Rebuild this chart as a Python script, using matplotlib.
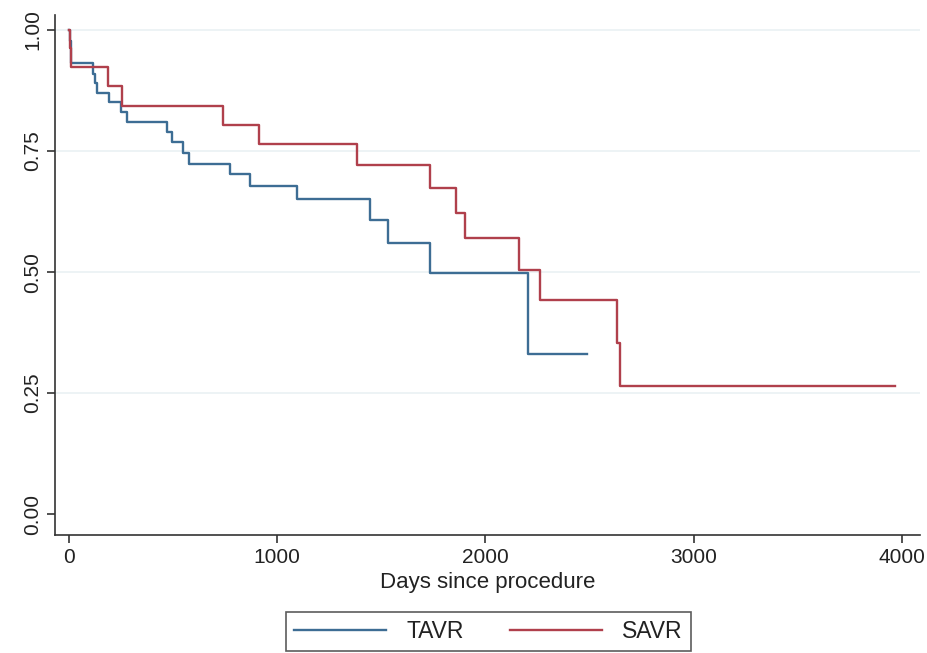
import matplotlib
matplotlib.use('Agg')
import matplotlib.pyplot as plt

# Kaplan-Meier step estimates
tavr_days = [0, 3, 8, 12, 114, 125, 133, 193, 250, 278, 470, 494, 547, 577, 773, 869, 1094, 1445, 1531, 1733, 2204, 2487]
tavr_surv = [1.0, 0.977, 0.955, 0.932, 0.91, 0.89, 0.870, 0.851, 0.831, 0.810, 0.790, 0.768, 0.745, 0.723, 0.702, 0.678, 0.651, 0.607, 0.560, 0.498, 0.331, 0.331]

savr_days = [0, 5, 10, 187, 254, 738, 912, 1381, 1733, 1858, 1902, 2163, 2262, 2632, 2646, 3965]
savr_surv = [1.0, 0.962, 0.924, 0.884, 0.843, 0.804, 0.764, 0.721, 0.674, 0.622, 0.570, 0.505, 0.442, 0.353, 0.264, 0.264]

yticks = [0.0, 0.25, 0.5, 0.75, 1.0]
ytick_labels = ['0.00', '0.25', '0.50', '0.75', '1.00']
xticks = [0, 1000, 2000, 3000, 4000]

plt.rcParams['font.family'] = ['Liberation Sans', 'DejaVu Sans']

fig = plt.figure(figsize=(9.27, 6.53), dpi=100)
ax = fig.add_axes([0.0593, 0.1807, 0.9332, 0.7963])

for y in yticks[1:]:
	ax.axhline(y, color='#eaf1f3', lw=1.2, zorder=0)

ax.step(tavr_days, tavr_surv, where='post', color='#3d6d94', lw=1.7, label='TAVR')
ax.step(savr_days, savr_surv, where='post', color='#b0404c', lw=1.7, label='SAVR')

ax.set_xlim(-67, 4087)
ax.set_ylim(-0.043, 1.031)
ax.set_xticks(xticks)
ax.set_yticks(yticks)
ax.set_yticklabels(ytick_labels, rotation=90, va='center')
ax.tick_params(axis='both', direction='out', length=6, width=1.2, color='#333333', labelsize=15, labelcolor='#222222')
ax.tick_params(axis='x', pad=3)
ax.tick_params(axis='y', pad=3)

for side in ['top', 'right']:
	ax.spines[side].set_visible(False)
for side in ['left', 'bottom']:
	ax.spines[side].set_color('#333333')
	ax.spines[side].set_linewidth(1.2)

ax.set_xlabel('Days since procedure', fontsize=16, labelpad=4, color='#222222')

leg = fig.legend(loc='center', bbox_to_anchor=(0.527, 0.033), ncol=2, fontsize=16.5,
	frameon=True, fancybox=False, edgecolor='#333333', handlelength=4.0,
	columnspacing=2.0, borderpad=0.35, handletextpad=0.9, borderaxespad=0)
leg.get_frame().set_linewidth(1.2)
for t in leg.get_texts():
	t.set_color('#222222')

fig.savefig('out.png', dpi=100)
